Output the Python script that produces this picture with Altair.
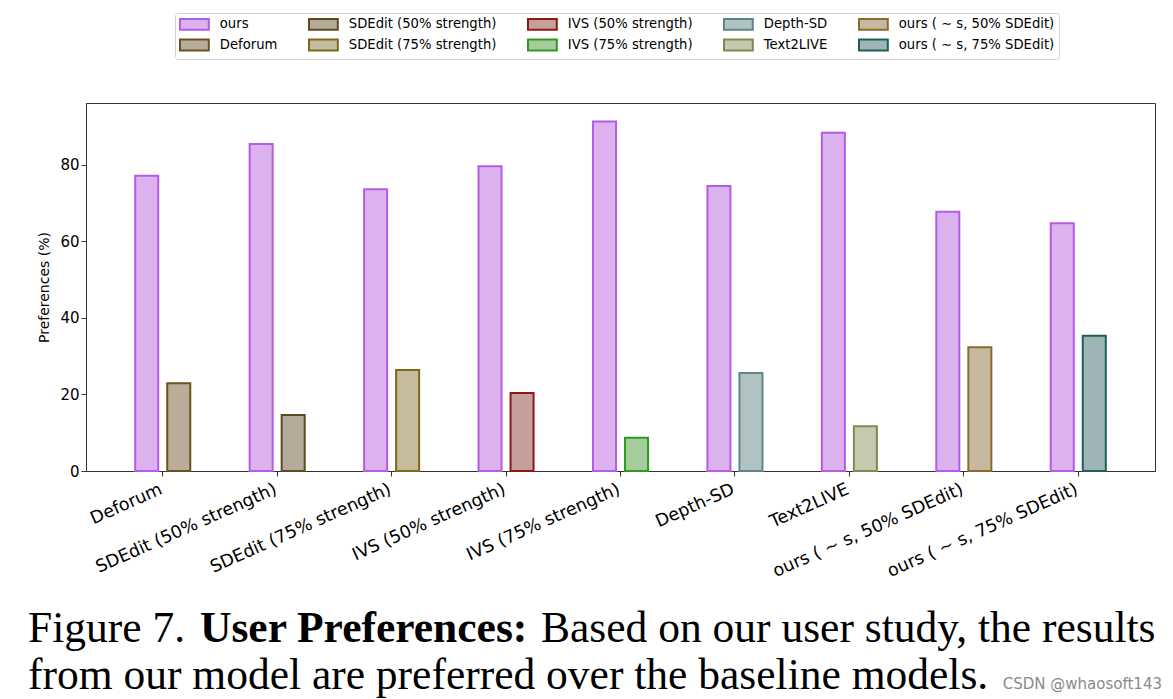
import altair as alt
import pandas as pd

# ---------------- data ----------------
categories = [
    "Deforum",
    "SDEdit (50% strength)",
    "SDEdit (75% strength)",
    "IVS (50% strength)",
    "IVS (75% strength)",
    "Depth-SD",
    "Text2LIVE",
    "ours ( \u223c s, 50% SDEdit)",
    "ours ( \u223c s, 75% SDEdit)",
]
ours_values = [77.1, 85.4, 73.6, 79.6, 91.3, 74.4, 88.3, 67.7, 64.7]
baseline_values = [22.9, 14.6, 26.4, 20.4, 8.7, 25.6, 11.7, 32.3, 35.3]

series_names = ["ours"] + categories
fill_colors = ["#dcb2ee", "#b8ad98", "#b4ab98", "#c5bc9e", "#c49f9b",
               "#a7cc9c", "#b1c2c4", "#c5c9ae", "#c9b8a1", "#9fb5b5"]
stroke_colors = ["#b65be6", "#6b5320", "#5f4a22", "#7d6a18", "#8b1a12",
                 "#2e9a22", "#5d8688", "#7f8a4f", "#8b6a2e", "#1e5f5a"]

caption_part1 = "Figure 7."
caption_part2 = "User Preferences:"
caption_part3 = "Based on our user study, the results"
caption_line2 = "from our model are preferred over the baseline models."
watermark = "CSDN @whaosoft143"

# ---------------- tables ----------------
rows = []
for c, o, b in zip(categories, ours_values, baseline_values):
    rows.append({"category": c, "role": "ours", "series": "ours", "value": o})
    rows.append({"category": c, "role": "baseline", "series": c, "value": b})
df = pd.DataFrame(rows)

legend_order = series_names  # Vega fills the 2-row grid column by column

W, H = 1069, 368
LEFT, TOP = 86, 103

def make_legend():
    return alt.Legend(
        title=None, orient="none", legendX=89, legendY=-90, columns=5,
        symbolType="M-1,-0.9L3.8,-0.9L3.8,0.9L-1,0.9Z", symbolSize=144,
        symbolStrokeWidth=2, labelFontSize=13.2, labelFont="DejaVu Sans",
        labelColor="black", labelOffset=26.8, columnPadding=27, rowPadding=1,
        padding=4, strokeColor="#d0d0d0", fillColor="white", cornerRadius=3,
        labelLimit=400,
    )

bars = alt.Chart(df).mark_bar(strokeWidth=2).encode(
    x=alt.X("category:N", sort=categories,
            scale=alt.Scale(paddingInner=0.519, paddingOuter=0.43),
            axis=alt.Axis(title=None, labelAngle=-24, labelAlign="right",
                          labelBaseline="top", labelFontSize=17.5,
                          labelFont="DejaVu Sans", labelColor="black",
                          labelLimit=400, labelPadding=4, labelOffset=-5,
                          tickSize=5, tickColor="#333", domainColor="#333")),
    xOffset=alt.XOffset("role:N", sort=["ours", "baseline"],
                        scale=alt.Scale(paddingInner=0.281, paddingOuter=0)),
    y=alt.Y("value:Q",
            scale=alt.Scale(domain=[0, 96.1], nice=False, zero=True),
            axis=alt.Axis(title="Preferences (%)", values=[0, 20, 40, 60, 80],
                          grid=False, labelFontSize=15, labelFont="DejaVu Sans",
                          labelColor="black", titleFontSize=14,
                          titleFont="DejaVu Sans", titleFontWeight="normal",
                          titleColor="black", tickSize=5, tickColor="#333",
                          domainColor="#333", titlePadding=8)),
    fill=alt.Fill("series:N",
                  scale=alt.Scale(domain=legend_order, range=fill_colors),
                  legend=make_legend()),
    stroke=alt.Stroke("series:N",
                      scale=alt.Scale(domain=legend_order, range=stroke_colors),
                      legend=make_legend()),
)

def caption(text, x, y, size=43.5, weight="normal", font="Liberation Serif",
            color="black", align="left"):
    return alt.Chart(pd.DataFrame({"t": [text]})).mark_text(
        align=align, baseline="alphabetic", font=font, fontSize=size,
        fontWeight=weight, color=color,
    ).encode(text="t:N", x=alt.value(x - LEFT), y=alt.value(y - TOP))

cap1 = caption(caption_part1, 28, 642)
cap2 = caption(caption_part2, 200, 642, weight="bold")
cap3 = caption(caption_part3, 541, 642)
cap4 = caption(caption_line2, 28, 689)
wm = caption(watermark, 1162, 689, size=15, font="DejaVu Sans",
             color="#8a8a8a", align="right")

chart = alt.layer(bars, cap1, cap2, cap3, cap4, wm).properties(
    width=W, height=H,
    autosize=alt.AutoSizeParams(type="none"),
    padding={"left": LEFT, "top": TOP, "right": 1173 - LEFT - W,
             "bottom": 699 - TOP - H},
    background="white",
).configure_view(stroke="#333", strokeWidth=1)

chart.save("out.html", embed_options={"renderer": "svg", "actions": False})
